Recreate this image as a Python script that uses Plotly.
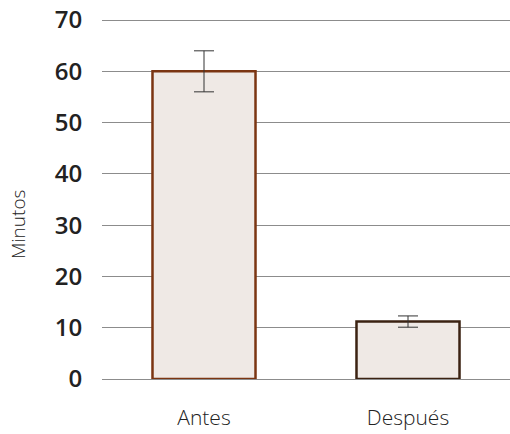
import plotly.graph_objects as go

categories = ["Antes", "Después"]
values = [60, 11.2]
errors = [4, 1.1]
outline_colors = ["#7b3512", "#3b2212"]
y_ticks = [0, 10, 20, 30, 40, 50, 60, 70]

fig = go.Figure()
fig.add_trace(go.Bar(
    x=categories, y=values,
    width=0.505,
    marker=dict(color="#efe9e5", line=dict(color=outline_colors, width=2.5)),
    error_y=dict(type="data", array=errors, visible=True, color="#333333", thickness=1, width=10),
))

fig.update_layout(
    width=510, height=434,
    margin=dict(l=102, r=0, t=18, b=55, autoexpand=False),
    paper_bgcolor="white", plot_bgcolor="white",
    showlegend=False,
    xaxis=dict(
        range=[-0.5, 1.5], automargin=False,
        tickfont=dict(family="Open Sans", size=21, color="#222222", weight=300),
        showgrid=False, showline=False, zeroline=False,
        ticks="outside", ticklen=20, tickcolor="rgba(0,0,0,0)",
    ),
    yaxis=dict(
        range=[0, 70.4], tickvals=y_ticks, automargin=False,
        ticklabeloverflow="allow",
        tickfont=dict(family="Open Sans", size=24, color="#222222", weight=600),
        showgrid=True, gridcolor="#8c8c8c", gridwidth=1,
        zeroline=True, zerolinecolor="#8c8c8c", zerolinewidth=1,
        ticks="outside", ticklen=14, tickcolor="rgba(0,0,0,0)",
    ),
    annotations=[dict(
        text="Minutos", textangle=-90, showarrow=False,
        xref="paper", yref="paper", x=-0.206, y=0.429,
        xanchor="center", yanchor="middle",
        font=dict(family="Open Sans", size=19, color="#222222", weight=300),
    )],
)

fig.write_html("out.html", config={"displayModeBar": False},
               post_script="document.body.style.margin='0';")
